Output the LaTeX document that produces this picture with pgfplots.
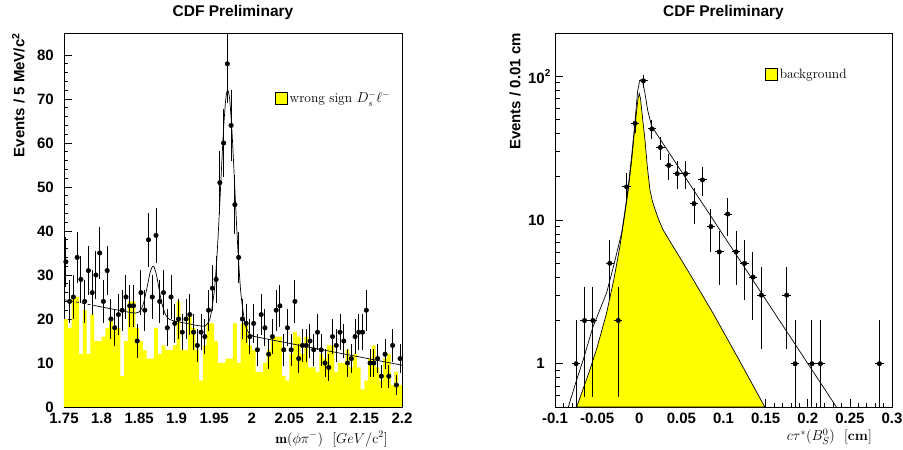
\documentclass[border=0pt]{standalone}
\usepackage{pgfplots}
\pgfplotsset{compat=1.18}
\usepackage{fontspec}
\newfontfamily\hel{Liberation Sans}
\definecolor{rootyellow}{RGB}{255,255,0}
\begin{document}
\begin{tikzpicture}
\useasboundingbox (0,0) rectangle (903pt,450pt);
\pgfplotsset{
  cdf/.style={
    scale only axis, height=374pt,
    axis line style={line width=0.9pt},
    tick align=inside, xtick pos=bottom, ytick pos=left,
    major tick length=8pt, minor tick length=4.5pt,
    every tick/.style={black, line width=0.7pt},
    tick label style={font=\hel\bfseries\fontsize{15}{18}\selectfont},
    xticklabel style={anchor=north, inner sep=0pt, yshift=-6pt},
    yticklabel style={anchor=east, inner sep=0pt, xshift=-10pt},
    title style={font=\hel\bfseries\fontsize{15.5}{18}\selectfont, at={(0.5,1)}, anchor=base, yshift=11pt},
    ylabel style={font=\hel\bfseries\fontsize{15}{18}\selectfont, anchor=south east, inner sep=0pt},
    xlabel style={font=\fontsize{14}{17}\selectfont, anchor=base east, inner sep=0pt},
    legend style={draw=none, fill=none, inner sep=0pt, anchor=west,
      font=\fontsize{13.5}{16}\selectfont, legend cell align=left},
    legend image code/.code={\draw[fill=rootyellow, draw=black, line width=0.6pt] (0pt,-6pt) rectangle (12pt,6pt);},
  },
  datapts/.style={only marks, mark=*, mark size=2.3pt, black, forget plot,
      error bars/y dir=both, error bars/y explicit, error bars/error mark=none,
      error bars/error bar style={line width=1pt, black}},
}
% ---------------- left panel ----------------
\begin{axis}[cdf, width=338pt, at={(64pt,43pt)}, anchor=south west,
  xmin=1.75, xmax=2.2, ymin=0, ymax=85,
  xtick={1.75,1.8,1.85,1.9,1.95,2,2.05,2.1,2.15,2.2},
  xticklabels={1.75,1.8,1.85,1.9,1.95,2,2.05,2.1,2.15,2.2},
  minor x tick num=4,
  ytick={0,10,20,30,40,50,60,70,80}, yticklabels={0,10,20,30,40,50,60,70,80},
  minor y tick num=4,
  title={CDF Preliminary},
  ylabel={Events / 5 MeV/c\textsuperscript{2}},
  ylabel style={at={(axis description cs:-0.1154,1)}},
  xlabel={$\mathbf{m}(\phi\pi^{-})$\ \ $[GeV/\mathrm{c}^{2}]$},
  xlabel style={at={(axis description cs:0.9586,-0.0963)}},
  legend style={at={(axis description cs:0.624,0.826)}},
]
\addplot[fill=rootyellow, draw=none, const plot mark left, forget plot] coordinates {
(1.750,20)(1.755,18)(1.760,25)(1.765,25)(1.770,12)(1.775,22)(1.780,12)(1.785,21)(1.790,15)(1.795,15)
(1.800,16)(1.805,18)(1.810,20)(1.815,18)(1.820,18)(1.825,7)(1.830,15)(1.835,24)(1.840,24)(1.845,18)
(1.850,15)(1.855,13)(1.860,11)(1.865,11)(1.870,18)(1.875,12)(1.880,14)(1.885,13)(1.890,13)(1.895,14)
(1.900,24)(1.905,13)(1.910,13)(1.915,21)(1.920,18)(1.925,13)(1.930,6)(1.935,14)(1.940,19)(1.945,19)
(1.950,15)(1.955,10)(1.960,10)(1.965,11)(1.970,11)(1.975,19)(1.980,10)(1.985,19)(1.990,19)(1.995,14)
(2.000,13)(2.005,8)(2.010,8)(2.015,10)(2.020,13)(2.025,16)(2.030,16)(2.035,16)(2.040,7)(2.045,6)
(2.050,12)(2.055,17)(2.060,16)(2.065,12)(2.070,16)(2.075,9)(2.080,9)(2.085,8)(2.090,12)(2.095,11)
(2.100,14)(2.105,14)(2.110,8)(2.115,10)(2.120,10)(2.125,13)(2.130,9)(2.135,12)(2.140,9)(2.145,4)
(2.150,6)(2.155,11)(2.160,14)(2.165,9)(2.170,6)(2.175,11)(2.180,12)(2.185,5)(2.190,8)(2.195,5)
(2.200,5)
} \closedcycle;
\addlegendimage{}
\addlegendentry{wrong sign $D_s^{-}\ell^{-}$}
% fit: dashed extrapolation
\addplot[black, line width=0.7pt, dashed, forget plot] coordinates {(1.75,24.4)(1.79,23.08)};
% fit: solid
\addplot[black, line width=0.7pt, smooth, forget plot] coordinates {
(1.79,23.08)(1.80,22.74)(1.81,22.41)(1.82,22.08)(1.83,21.75)(1.84,21.43)(1.845,21.33)(1.85,21.60)
(1.855,23.09)(1.86,26.63)(1.8625,28.85)(1.865,30.77)(1.8675,31.86)(1.8687,31.97)(1.87,31.76)
(1.8725,30.45)(1.875,28.34)(1.8775,25.96)(1.88,23.79)(1.885,21.01)(1.89,19.97)(1.895,19.62)
(1.90,19.43)(1.91,19.10)(1.92,18.77)(1.93,18.45)(1.935,18.37)(1.94,18.70)(1.945,20.52)(1.95,26.20)
(1.9525,31.36)(1.955,38.24)(1.9575,46.51)(1.96,55.30)(1.9625,63.37)(1.965,69.30)(1.9665,71.32)
(1.968,71.98)(1.9695,71.22)(1.971,69.10)(1.9735,63.01)(1.976,54.77)(1.9785,45.81)(1.981,37.38)
(1.9835,30.34)(1.986,25.01)(1.991,19.00)(1.996,16.85)(2.001,16.19)(2.006,15.94)(2.05,14.47)
(2.10,12.81)(2.15,11.16)(2.20,9.50)
};
% data
\addplot[datapts] coordinates {
(1.7525,33) +- (0,5.74) (1.7575,24) +- (0,4.90) (1.7625,25) +- (0,5.00) (1.7675,34) +- (0,5.83)
(1.7725,29) +- (0,5.39) (1.7775,24) +- (0,4.90) (1.7825,31) +- (0,5.57) (1.7875,26) +- (0,5.10)
(1.7925,30) +- (0,5.48) (1.7975,35) +- (0,5.92) (1.8025,24) +- (0,4.90) (1.8075,31) +- (0,5.57)
(1.8125,20) +- (0,4.47) (1.8175,18) +- (0,4.24) (1.8225,21) +- (0,4.58) (1.8275,22) +- (0,4.69)
(1.8325,25) +- (0,5.00) (1.8375,23) +- (0,4.80) (1.8425,23) +- (0,4.80) (1.8475,15) +- (0,3.87)
(1.8525,26) +- (0,5.10) (1.8575,22) +- (0,4.69) (1.8625,38) +- (0,6.16) (1.8675,25) +- (0,5.00)
(1.8725,39) +- (0,6.24) (1.8775,24) +- (0,4.90) (1.8825,26) +- (0,5.10) (1.8875,18) +- (0,4.24)
(1.8925,25) +- (0,5.00) (1.8975,19) +- (0,4.36) (1.9025,20) +- (0,4.47) (1.9075,17) +- (0,4.12)
(1.9125,20) +- (0,4.47) (1.9175,21) +- (0,4.58) (1.9225,17) +- (0,4.12) (1.9275,14) +- (0,3.74)
(1.9325,17) +- (0,4.12) (1.9375,16) +- (0,4.00) (1.9425,22) +- (0,4.69) (1.9475,27) +- (0,5.20)
(1.9525,29) +- (0,5.39) (1.9575,51) +- (0,7.14) (1.9625,60) +- (0,7.75) (1.9675,78) +- (0,8.83)
(1.9725,64) +- (0,8.00) (1.9775,46) +- (0,6.78) (1.9825,34) +- (0,5.83) (1.9875,20) +- (0,4.47)
(1.9925,19) +- (0,4.36) (1.9975,16) +- (0,4.00) (2.0025,19) +- (0,4.36) (2.0075,13) +- (0,3.61)
(2.0125,21) +- (0,4.58) (2.0175,18) +- (0,4.24) (2.0225,12) +- (0,3.46) (2.0275,16) +- (0,4.00)
(2.0325,22) +- (0,4.69) (2.0375,23) +- (0,4.80) (2.0425,13) +- (0,3.61) (2.0475,18) +- (0,4.24)
(2.0525,13) +- (0,3.61) (2.0575,24) +- (0,4.90) (2.0625,11) +- (0,3.32) (2.0675,14) +- (0,3.74)
(2.0725,14) +- (0,3.74) (2.0775,15) +- (0,3.87) (2.0825,13) +- (0,3.61) (2.0875,17) +- (0,4.12)
(2.0925,13) +- (0,3.61) (2.0975,10) +- (0,3.16) (2.1025,9) +- (0,3.00) (2.1075,16) +- (0,4.00)
(2.1125,14) +- (0,3.74) (2.1175,17) +- (0,4.12) (2.1225,15) +- (0,3.87) (2.1275,10) +- (0,3.16)
(2.1325,11) +- (0,3.32) (2.1375,16) +- (0,4.00) (2.1425,17) +- (0,4.12) (2.1475,17) +- (0,4.12)
(2.1525,22) +- (0,4.69) (2.1575,10) +- (0,3.16) (2.1625,10) +- (0,3.16) (2.1675,11) +- (0,3.32)
(2.1725,7) +- (0,2.65) (2.1775,12) +- (0,3.46) (2.1825,7) +- (0,2.65) (2.1875,14) +- (0,3.74)
(2.1925,5) +- (0,2.24) (2.1975,11) +- (0,3.32)
};
\end{axis}
% ---------------- right panel ----------------
\begin{axis}[cdf, width=337pt, at={(555pt,43pt)}, anchor=south west,
  ymode=log, xmin=-0.1, xmax=0.3, ymin=0.5, ymax=200,
  xtick={-0.1,-0.05,0,0.05,0.1,0.15,0.2,0.25,0.3},
  xticklabels={-0.1,-0.05,0,0.05,0.1,0.15,0.2,0.25,0.3},
  minor x tick num=4,
  ytick={1,10,100}, yticklabels={1,10,10\rlap{\raisebox{0.45em}{\fontsize{10}{12}\selectfont 2}}},
  minor ytick={0.5,0.6,0.7,0.8,0.9,2,3,4,5,6,7,8,9,20,30,40,50,60,70,80,90,200},
  title={CDF Preliminary},
  ylabel={Events / 0.01 cm},
  ylabel style={at={(axis description cs:-0.1009,1)}},
  xlabel={$c\tau^{*}(B_{S}^{0})$\ \ [\textbf{cm}]},
  xlabel style={at={(axis description cs:0.9407,-0.0909)}},
  legend style={at={(axis description cs:0.623,0.89)}},
]
\addplot[fill=rootyellow, draw=black, line width=0.7pt, forget plot] coordinates {
(-0.0743,0.5)(-0.0585,0.91)(-0.05,1.3)(-0.0387,2.26)(-0.03,3.9)(-0.0229,6.6)(-0.018,10.2)
(-0.013,16.3)(-0.009,26)(-0.0051,44.9)(-0.0015,70)(0.0,75.7)(0.0015,70)(0.0028,58.9)
(0.0067,36.4)(0.0095,23.8)(0.0126,16.3)(0.0155,13.6)(0.0186,11.9)(0.0235,9.9)(0.0285,8.5)
(0.0403,6.53)(0.06,4.22)(0.0877,2.24)(0.119,1.05)(0.149,0.5)
} -- cycle;
\addlegendimage{}
\addlegendentry{background}
\addplot[black, line width=0.7pt, forget plot] coordinates {
(-0.0842,0.5)(-0.075,0.75)(-0.0664,1.07)(-0.055,1.8)(-0.0387,3.12)(-0.03,4.9)(-0.0209,8.15)
(-0.017,11.5)(-0.013,17.2)(-0.009,28)(-0.0051,47.8)(-0.002,78)(0.0,90)(0.002,95)(0.004,92)
(0.0067,76.7)(0.01,58)(0.0147,44.9)(0.234,0.5)
};
\addplot[datapts, error bars/x dir=both, error bars/x explicit] coordinates {
(-0.075,1) += (0.005,1) -= (0.005,0.99)
(-0.065,2) +- (0.005,1.414) (-0.055,2) +- (0.005,1.414) (-0.035,5) +- (0.005,2.236)
(-0.025,2) +- (0.005,1.414) (-0.015,17) +- (0.005,4.12) (-0.005,47) +- (0.005,6.86)
(0.005,93) +- (0.005,9.64) (0.015,43) +- (0.005,6.56) (0.025,32) +- (0.005,5.66)
(0.035,24) +- (0.005,4.90) (0.045,21) +- (0.005,4.58) (0.055,21) +- (0.005,4.58)
(0.065,13) +- (0.005,3.61) (0.075,19) +- (0.005,4.36) (0.085,9) +- (0.005,3.00)
(0.095,6) +- (0.005,2.45) (0.105,11) +- (0.005,3.32) (0.115,6) +- (0.005,2.45)
(0.125,5) +- (0.005,2.24) (0.135,4) +- (0.005,2.00) (0.145,3) +- (0.005,1.73)
(0.175,3) +- (0.005,1.73)
(0.185,1) += (0.005,1) -= (0.005,0.99)
(0.205,1) += (0.005,1) -= (0.005,0.99)
(0.215,1) += (0.005,1) -= (0.005,0.99)
(0.285,1) += (0.005,1) -= (0.005,0.99)
};
\end{axis}
\end{tikzpicture}
\end{document}
